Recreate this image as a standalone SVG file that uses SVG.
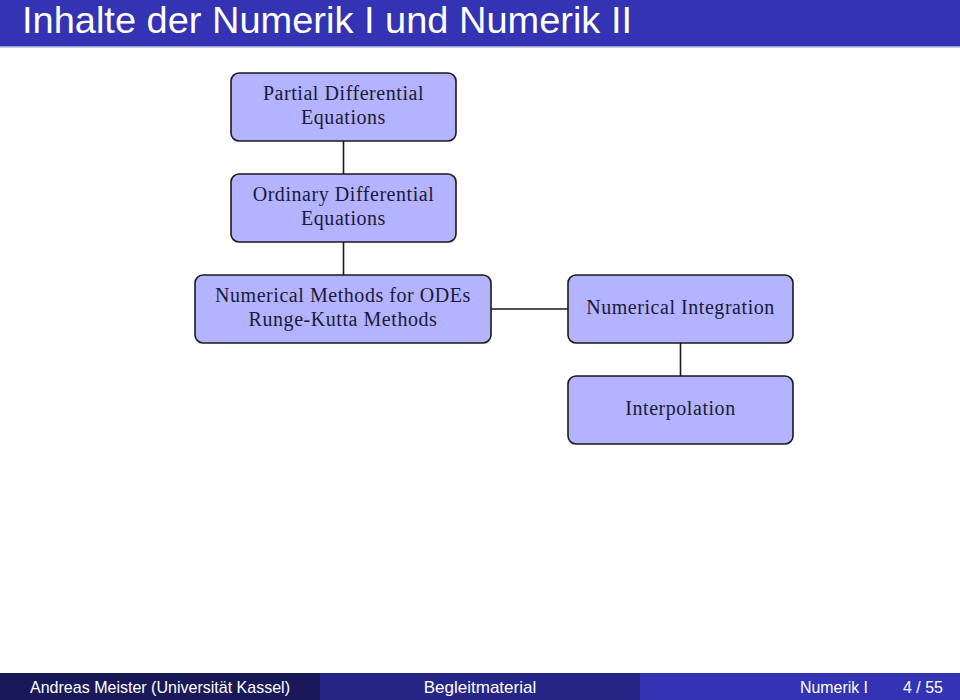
<svg xmlns="http://www.w3.org/2000/svg" width="960" height="700" viewBox="0 0 960 700">
<style>
.node rect{fill:#b3b3ff;stroke:#1a1a1a;stroke-width:1.6}
.node text{font-family:"Liberation Serif","DejaVu Serif",serif;font-size:20px;letter-spacing:0.55px;fill:#1a1a3a;text-anchor:middle}
.conn line{stroke:#1a1a1a;stroke-width:1.6}
.ft{font-family:"Liberation Sans",Arial,sans-serif;font-size:17px;fill:#ffffff}
</style>
<rect x="0" y="0" width="960" height="700" fill="#ffffff"/>
<rect x="0" y="0" width="960" height="46" fill="#3333b3"/>
<rect x="0" y="46" width="960" height="1.5" fill="#9a9ad8"/>
<text x="22" y="33" font-family="Liberation Sans,Arial,sans-serif" font-size="36" fill="#ffffff" textLength="610" lengthAdjust="spacingAndGlyphs">Inhalte der Numerik I und Numerik II</text>

<g class="conn">
<line x1="343.5" y1="141" x2="343.5" y2="174"/>
<line x1="343.5" y1="242" x2="343.5" y2="275"/>
<line x1="491" y1="309" x2="568" y2="309"/>
<line x1="680.5" y1="343" x2="680.5" y2="376"/>
</g>

<g id="pde" class="node">
<rect x="231" y="73" width="225" height="68" rx="8"/>
<text x="343.5" y="100">Partial Differential</text>
<text x="343.5" y="124">Equations</text>
</g>
<g id="ode" class="node">
<rect x="231" y="174" width="225" height="68" rx="8"/>
<text x="343.5" y="201">Ordinary Differential</text>
<text x="343.5" y="225">Equations</text>
</g>
<g id="nmode" class="node">
<rect x="195" y="275" width="296" height="68" rx="8"/>
<text x="343" y="302">Numerical Methods for ODEs</text>
<text x="343" y="326">Runge-Kutta Methods</text>
</g>
<g id="numint" class="node">
<rect x="568" y="275" width="225" height="68" rx="8"/>
<text x="680.5" y="314">Numerical Integration</text>
</g>
<g id="interp" class="node">
<rect x="568" y="376" width="225" height="68" rx="8"/>
<text x="680.5" y="415">Interpolation</text>
</g>

<rect x="0" y="673" width="320" height="27" fill="#191959"/>
<rect x="320" y="673" width="320" height="27" fill="#262686"/>
<rect x="640" y="673" width="320" height="27" fill="#3333b3"/>
<text class="ft" x="30" y="693" textLength="260" lengthAdjust="spacingAndGlyphs">Andreas Meister  (Universität Kassel)</text>
<text class="ft" x="480" y="693" text-anchor="middle">Begleitmaterial</text>
<text class="ft" x="800" y="693" textLength="68" lengthAdjust="spacingAndGlyphs">Numerik I</text>
<text class="ft" x="903" y="693" textLength="40" lengthAdjust="spacingAndGlyphs">4 / 55</text>
</svg>
